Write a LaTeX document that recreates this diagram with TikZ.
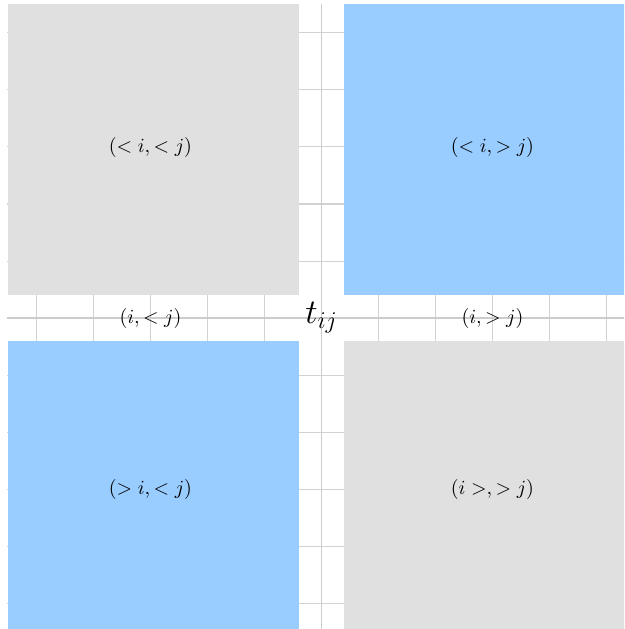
\documentclass[tikz,border=0pt]{standalone}
\usepackage{amsmath}
\usepackage{amssymb}
\usepackage{tikz}

\definecolor{blockgray}{HTML}{E0E0E0}
\definecolor{blockblue}{HTML}{99CCFF}

\begin{document}
\begin{tikzpicture}
    % Frame of the picture
    \useasboundingbox (-5.64,-5.456) rectangle (5.31,5.579);
    \clip (-5.64,-5.456) rectangle (5.31,5.579);

    % Draw the background grid and the two axes
    \draw[line width=0.5pt, gray!35] (-5.52,-5.5) grid (5.5,5.5);
    \draw[line width=0.8pt, gray!40] (-5.52,0) -- (5.5,0);
    \draw[line width=0.8pt, gray!40] (0,-5.5) -- (0,5.5);

    % Draw the four blocks round the element
    \fill[blockgray] (-5.5,0.4) rectangle (-0.4,5.5);
    \fill[blockblue] (0.4,0.4) rectangle (5.5,5.5);
    \fill[blockblue] (-5.5,-5.5) rectangle (-0.4,-0.4);
    \fill[blockgray] (0.4,-5.5) rectangle (5.5,-0.4);

    % Label the blocks
    \node (LT) at (-3,3) {$(<i,<j)$};
    \node (RT) at (3,3) {$(<i,>j)$};
    \node (LB) at (-3,-3) {$(>i,<j)$};
    \node (RB) at (3,-3) {$(i>,>j)$};

    % Label the row of the element
    \node (L) at (-3,0) {$(i,<j)$};
    \node (R) at (3,0) {$(i,>j)$};
    \node (T) at (0,0) {\LARGE $t_{ij}$};

\end{tikzpicture}
\end{document}
